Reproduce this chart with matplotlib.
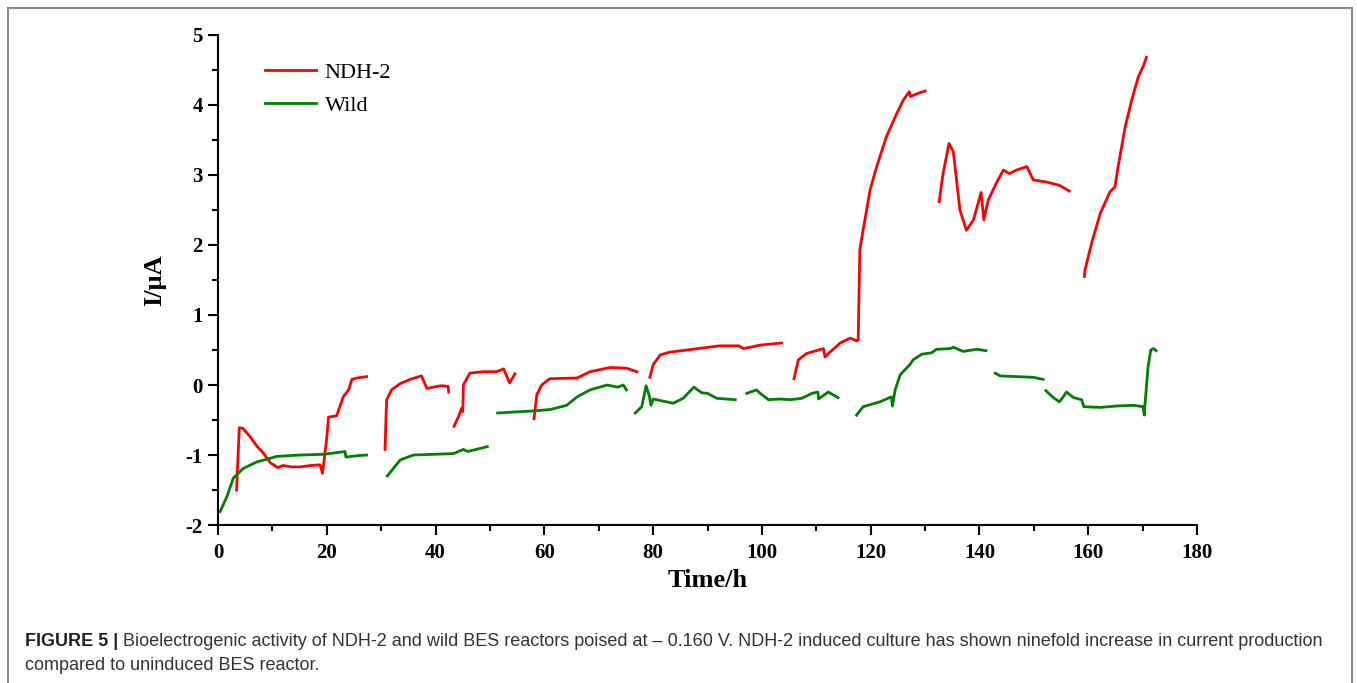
import numpy as np
import matplotlib
matplotlib.use("Agg")
import matplotlib.pyplot as plt
from matplotlib.patches import Rectangle
from matplotlib.ticker import MultipleLocator

# NDH-2 current (uA) vs time (h); None marks a gap between runs
ndh2_time = [3.4, 3.9, 4.6, 5.9, 7.2, 8.3, 9.6, 11.0, 11.9, 13.5, 15.1, 17.0, 18.75, 19.2, 20.0, 20.3, 21.8, 23.0, 24.0, 24.6, 25.5, 27.3, None,
             30.7, 30.9, 31.0, 31.9, 33.5, 35.3, 37.4, 38.4, 39.6, 41.0, 42.3, 42.4, None,
             43.4, 44.2, 44.8, 45.0, 45.1, 46.3, 48.8, 51.2, 52.5, 53.6, 54.6, None,
             58.1, 58.6, 59.5, 61.0, 66.0, 68.4, 72.1, 75.1, 77.0, None,
             79.4, 80.0, 81.3, 83.1, 86.2, 89.2, 92.3, 95.7, 96.6, 99.7, 103.6, None,
             105.9, 106.7, 108.2, 111.3, 111.6, 112.5, 114.4, 116.2, 117.5, 117.7, 118.0, 118.6, 119.9, 121.1, 122.9, 124.8, 126.0, 127.1, 127.3, 128.5, 130.0, None,
             132.6, 133.3, 134.4, 135.2, 136.4, 137.6, 138.9, 140.3, 140.8, 141.6, 143.2, 144.4, 145.5, 146.8, 148.7, 149.9, 152.3, 154.8, 156.5, None,
             159.3, 159.4, 160.6, 162.2, 164.0, 164.9, 165.5, 166.8, 168.0, 169.2, 170.1, 170.7]
ndh2_current = [-1.5, -0.61, -0.62, -0.74, -0.88, -0.97, -1.11, -1.18, -1.15, -1.17, -1.17, -1.15, -1.14, -1.26, -0.75, -0.46, -0.44, -0.17, -0.07, 0.08, 0.10, 0.12, None,
                -0.92, -0.4, -0.21, -0.07, 0.02, 0.08, 0.13, -0.05, -0.03, -0.01, -0.02, -0.1, None,
                -0.59, -0.45, -0.33, -0.38, 0.0, 0.17, 0.19, 0.19, 0.23, 0.03, 0.16, None,
                -0.48, -0.14, 0.0, 0.09, 0.1, 0.19, 0.25, 0.24, 0.19, None,
                0.11, 0.29, 0.43, 0.47, 0.5, 0.53, 0.56, 0.56, 0.52, 0.57, 0.6, None,
                0.09, 0.36, 0.45, 0.52, 0.40, 0.47, 0.6, 0.67, 0.63, 0.64, 1.93, 2.21, 2.79, 3.12, 3.55, 3.88, 4.07, 4.19, 4.12, 4.16, 4.2, None,
                2.62, 3.02, 3.45, 3.33, 2.5, 2.21, 2.36, 2.75, 2.36, 2.64, 2.9, 3.07, 3.02, 3.07, 3.12, 2.93, 2.9, 2.85, 2.77, None,
                1.55, 1.64, 2.02, 2.45, 2.76, 2.83, 3.12, 3.69, 4.07, 4.4, 4.55, 4.68]

# Wild-type current (uA) vs time (h)
wild_time = [0.37, 1.0, 1.6, 2.8, 4.65, 7.1, 10.8, 15.1, 19.4, 23.35, 23.5, 25.5, 27.3, None,
             31.1, 33.5, 35.9, 39.6, 43.3, 45.1, 45.9, 49.5, None,
             51.4, 58.0, 61.1, 64.1, 66.0, 68.4, 71.5, 73.5, 74.5, 75.1, None,
             76.7, 77.9, 78.7, 79.3, 79.6, 80.0, 81.8, 83.7, 85.5, 87.5, 88.9, 90.0, 91.7, 95.1, None,
             97.2, 99.0, 99.7, 101.2, 103.3, 105.2, 107.3, 109.2, 110.3, 110.4, 112.2, 114.0, None,
             117.4, 118.6, 121.7, 123.8, 124.0, 124.5, 125.4, 125.7, 127.2, 127.8, 129.4, 131.2, 132.1, 134.6, 135.2, 137.0, 139.5, 141.2, None,
             142.9, 143.8, 146.8, 149.9, 151.7, None,
             152.2, 153.6, 154.7, 155.4, 156.0, 157.3, 158.8, 159.2, 162.2, 165.2, 168.3, 170.1, 170.3, 170.4, 171.0, 171.5, 172.0, 172.5]
wild_current = [-1.81, -1.7, -1.6, -1.33, -1.19, -1.1, -1.02, -1.0, -0.99, -0.95, -1.03, -1.01, -1.0, None,
                -1.3, -1.07, -1.0, -0.99, -0.98, -0.92, -0.95, -0.88, None,
                -0.40, -0.37, -0.35, -0.29, -0.17, -0.07, 0.0, -0.03, 0.0, -0.07, None,
                -0.40, -0.31, -0.01, -0.16, -0.29, -0.2, -0.23, -0.26, -0.19, -0.03, -0.11, -0.12, -0.19, -0.21, None,
                -0.12, -0.07, -0.12, -0.21, -0.2, -0.21, -0.19, -0.12, -0.1, -0.2, -0.1, -0.18, None,
                -0.43, -0.31, -0.24, -0.17, -0.3, -0.07, 0.14, 0.17, 0.29, 0.36, 0.44, 0.46, 0.51, 0.52, 0.54, 0.48, 0.51, 0.49, None,
                0.17, 0.13, 0.12, 0.11, 0.08, None,
                -0.08, -0.18, -0.24, -0.17, -0.1, -0.18, -0.21, -0.31, -0.32, -0.3, -0.29, -0.31, -0.43, -0.31, 0.26, 0.5, 0.52, 0.49]

x_ticks = [0, 20, 40, 60, 80, 100, 120, 140, 160, 180]
y_ticks = [-2, -1, 0, 1, 2, 3, 4, 5]

caption_bold = "FIGURE 5 |"
caption_line1 = " Bioelectrogenic activity of NDH-2 and wild BES reactors poised at \u2013 0.160 V. NDH-2 induced culture has shown ninefold increase in current production"
caption_line2 = "compared to uninduced BES reactor."


def to_arr(v):
    return np.array([np.nan if a is None else a for a in v], dtype=float)


plt.rcParams["axes.unicode_minus"] = False

fig = plt.figure(figsize=(13.57, 6.83), dpi=100)
ax = fig.add_axes([0.1607, 0.2313, 0.7214, 0.7175])

ax.plot(to_arr(ndh2_time), to_arr(ndh2_current), color="#ff0000", lw=2, label="NDH-2")
ax.plot(to_arr(wild_time), to_arr(wild_current), color="#008000", lw=2, label="Wild")

ax.set_xlim(0, 180)
ax.set_ylim(-2, 5)
ax.set_xticks(x_ticks)
ax.set_yticks(y_ticks)
ax.xaxis.set_minor_locator(MultipleLocator(10))
ax.yaxis.set_minor_locator(MultipleLocator(0.5))

serif = "Liberation Serif"
for s in ["top", "right"]:
    ax.spines[s].set_visible(False)
for s in ["left", "bottom"]:
    ax.spines[s].set_linewidth(1.5)
ax.tick_params(which="major", direction="out", length=7, width=1.5)
ax.tick_params(which="minor", direction="out", length=4, width=1.5)
ax.tick_params(axis="x", pad=6)
ax.tick_params(axis="y", pad=4)
for lab in ax.get_xticklabels() + ax.get_yticklabels():
    lab.set_fontfamily(serif)
    lab.set_fontweight("bold")
    lab.set_fontsize(15)

ax.set_xlabel("Time/h", fontfamily=serif, fontweight="bold", fontsize=19, labelpad=4)
ax.set_ylabel("I/\u03bcA", fontfamily=serif, fontweight="bold", fontsize=19, labelpad=14)

leg = ax.legend(loc="upper left", bbox_to_anchor=(0.027, 0.985), frameon=False,
                prop={"family": serif, "size": 16}, handlelength=2.3, handletextpad=0.4,
                labelspacing=0.55)

# figure border
fig.patches.append(Rectangle((8 / 1357, -0.1), 1344 / 1357, 1.1 - 8 / 683, transform=fig.transFigure,
                             fill=False, edgecolor="#8c8c8c", lw=1.5))

cap_size = 13
t1 = fig.text(25 / 1357, 1 - 646 / 683, caption_bold, fontfamily="Liberation Sans", fontweight="bold",
              fontsize=cap_size, color="#222222", va="baseline")
fig.canvas.draw()
bb = t1.get_window_extent()
fig.text(bb.x1 / fig.bbox.width, 1 - 646 / 683, caption_line1, fontfamily="Liberation Sans",
         fontsize=cap_size, color="#333333", va="baseline")
fig.text(25 / 1357, 1 - 670 / 683, caption_line2, fontfamily="Liberation Sans",
         fontsize=cap_size, color="#333333", va="baseline")

fig.savefig("out.png", dpi=100)
